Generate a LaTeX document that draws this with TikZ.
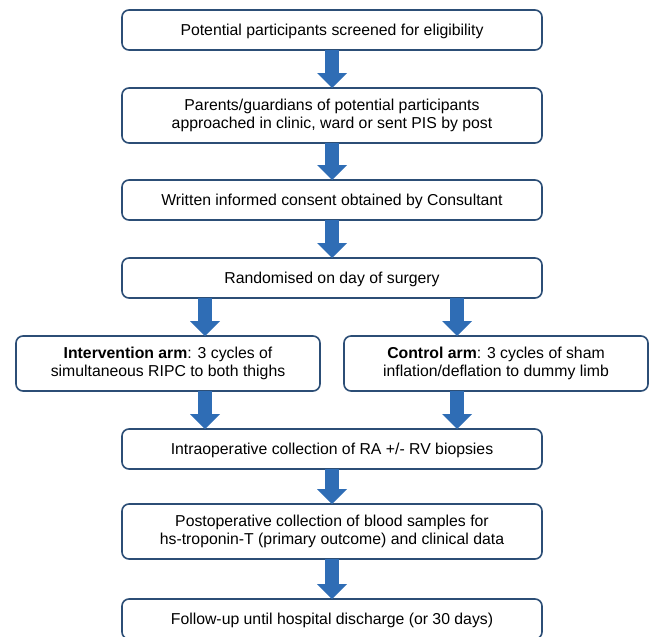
\documentclass[tikz,border=0pt]{standalone}
\usepackage{fontspec}
\setmainfont{Liberation Sans}
\usepackage{xcolor}
\usetikzlibrary{arrows.meta,positioning}
\definecolor{boxline}{HTML}{2C4E76}
\definecolor{arrowblue}{HTML}{2F6DB5}

\begin{document}
\begin{tikzpicture}[
  node distance=38pt,
  every node/.style={font=\fontsize{15.8}{18.5}\selectfont},
  basebox/.style={draw=boxline, line width=1.6pt, rounded corners=7pt, align=center, minimum width=420pt, fill=white, inner sep=4pt, outer sep=0pt},
  box/.style={basebox, minimum height=40pt, text height=11.2pt, text depth=0pt},
  boxtwo/.style={basebox, minimum height=55pt},
  armbox/.style={boxtwo, minimum width=304pt},
  arrow/.style={arrowblue, line width=14pt, -{Triangle[width=30pt, length=15pt, line width=0pt]}}
]
\useasboundingbox (0pt,0pt) rectangle (649pt,-637pt);
\node[box] (screen) at (332pt,-30pt) {Potential participants screened for eligibility};
\node[boxtwo, below=of screen] (approach) {Parents/guardians of potential participants\\approached in clinic, ward or sent PIS by post};
\node[box, below=37pt of approach] (consent) {Written informed consent obtained by Consultant};
\node[box, below=of consent] (rand) {Randomised on day of surgery};
\node[armbox, below=of rand, xshift=-164pt] (inter) {\textbf{Intervention arm}: 3 cycles of\\simultaneous RIPC to both thighs};
\node[armbox, below=of rand, xshift=164pt] (ctrl) {\textbf{Control arm}: 3 cycles of sham\\inflation/deflation to dummy limb};
\node[box, anchor=north] (intra) at ([yshift=-38pt]rand |- inter.south) {Intraoperative collection of RA +/- RV biopsies};
\node[boxtwo, below=35pt of intra] (post) {Postoperative collection of blood samples for\\hs-troponin-T (primary outcome) and clinical data};
\node[box, below=40pt of post] (follow) {Follow-up until hospital discharge (or 30 days)};
\draw[arrow] (screen) -- (approach);
\draw[arrow] (approach) -- (consent);
\draw[arrow] (consent) -- (rand);
\draw[arrow] ([xshift=-127pt]rand.south) -- ([xshift=-127pt]rand.south |- inter.north);
\draw[arrow] ([xshift=125pt]rand.south) -- ([xshift=125pt]rand.south |- ctrl.north);
\draw[arrow] ([xshift=-127pt]intra.north |- inter.south) -- ([xshift=-127pt]intra.north);
\draw[arrow] ([xshift=125pt]intra.north |- ctrl.south) -- ([xshift=125pt]intra.north);
\draw[arrow] (intra) -- (post);
\draw[arrow] (post) -- (follow);
\end{tikzpicture}
\end{document}
